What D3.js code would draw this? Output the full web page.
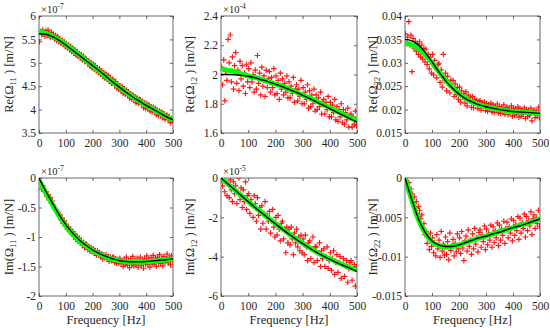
<!DOCTYPE html>
<html>
<head>
<meta charset="utf-8">
<script src="https://cdn.jsdelivr.net/npm/d3@7"></script>
<style>
  body { margin: 0; background: #fff; }
  svg text { font-family: "Liberation Serif", "Times New Roman", serif !important; fill: #262626; }
</style>
</head>
<body>
<div id="plt"></div>
<script>
// measured sample frequencies (Hz)
const freq = [2,6,10,14,18,22,26,30,34,38,42,46,50,54,58,62,66,70,74,78,82,86,90,94,98,
  102,106,110,114,118,122,126,130,134,138,142,146,150,154,158,162,166,170,174,178,182,186,190,194,198,
  202,206,210,214,218,222,226,230,234,238,242,246,250,254,258,262,266,270,274,278,282,286,290,294,298,
  302,306,310,314,318,322,326,330,334,338,342,346,350,354,358,362,366,370,374,378,382,386,390,394,398,
  402,406,410,414,418,422,426,430,434,438,442,446,450,454,458,462,466,470,474,478,482,486,490,494,498];
// frequencies where the fitted curves are read
const fitFreq = [0,25,50,75,100,125,150,175,200,225,250,275,300,325,350,375,400,425,450,475,500];

// Re(Ω11), x1e-7
const re11Meas = [5.45,5.67,5.60,5.70,5.63,5.57, 5.68,5.58,5.70,5.62,5.54,5.65,5.56, 5.61,5.51,5.58,5.48,5.56,5.45,
  5.51,5.42,5.48,5.39,5.45,5.35, 5.41,5.32,5.38,5.28,5.35,5.24, 5.31,5.21,5.28,5.16,5.24,5.14,
  5.20,5.11,5.17,5.06,5.14,5.03,5.09, 5.07,4.98,5.04,4.93,5.00,4.89, 4.98,4.87,4.94,4.83,4.90,4.79,
  4.87,4.76,4.83,4.71,4.79,4.67, 4.76,4.65,4.73,4.61,4.68,4.56,4.65, 4.62,4.52,4.60,4.46,4.55,4.43,
  4.51,4.40,4.49,4.35,4.44,4.33, 4.42,4.31,4.38,4.25,4.34,4.22, 4.31,4.21,4.28,4.15,4.25,4.13,4.22,
  4.21,4.11,4.18,4.04,4.14,4.02, 4.13,4.02,4.10,3.97,4.06,3.95, 4.05,3.95,4.03,3.89,3.98,3.87,
  3.97,3.87,3.95,3.82,3.91,3.79,3.88, 3.88,3.78,3.85,3.72,3.81,3.75];
const re11Fit = [5.66,5.63,5.57,5.49,5.39,5.28,5.17,5.05,4.94,4.82,4.70,4.59,4.48,4.37,4.27,4.18,4.09,4.01,3.93,3.85,3.78];
const re11Model = [5.62,5.61,5.56,5.48,5.38,5.27,5.16,5.05,4.94,4.83,4.71,4.59,4.48,4.37,4.27,4.18,4.09,4.01,3.93,3.85,3.78];

// Re(Ω12), x1e-4
const re12Meas = [2.05,1.93,2.10,1.82,2.02,1.96, 2.24,2.08,2.27,1.95,2.12,1.90,2.06, 2.15,1.94,2.03,1.89,2.09,1.97,
  2.06,1.92,2.01,1.87,2.07,1.95, 2.04,1.91,2.08,1.95,2.00,1.88, 2.03,1.90,2.13,1.94,2.01,1.86,
  2.05,1.92,1.99,1.85,2.03,1.91,1.97, 2.02,1.88,1.98,1.91,2.04,1.86, 1.99,1.87,1.96,1.83,2.01,1.90,
  1.97,1.86,1.94,1.88,1.99,1.84, 1.95,1.84,1.92,1.87,1.98,1.81,1.90, 1.93,1.82,1.90,1.85,1.96,1.80,
  1.91,1.80,1.88,1.83,1.93,1.77, 1.89,1.78,1.86,1.80,1.90,1.75, 1.86,1.76,1.84,1.78,1.88,1.73,1.81,
  1.83,1.73,1.81,1.76,1.85,1.71, 1.81,1.71,1.79,1.74,1.83,1.69, 1.78,1.68,1.76,1.71,1.80,1.67,
  1.76,1.66,1.74,1.69,1.77,1.64,1.72, 1.73,1.64,1.71,1.66,1.75,1.65];
const re12Fit = [2.04,2.03,2.02,2.005,1.99,1.98,1.965,1.95,1.935,1.92,1.90,1.88,1.86,1.84,1.818,1.795,1.773,1.75,1.727,1.705,1.685];
const re12Model = [2.00,2.00,1.998,1.994,1.988,1.978,1.964,1.95,1.934,1.917,1.898,1.879,1.858,1.836,1.813,1.79,1.767,1.743,1.72,1.697,1.675];

// Re(Ω22)
const re22Meas = [.0362,.0341,.0355,.0388,.0338,.0359, .0281,.0352,.0330,.0346,.0325,.0341,.0318, .0345,.0312,.0338,.0308,.0331,.0302,
  .0329,.0296,.0318,.0287,.0312,.0278, .0318,.0274,.0305,.0291,.0268,.0296, .0299,.0258,.0285,.0248,.0318,.0262,
  .0278,.0240,.0271,.0256,.0236,.0263,.0249, .0262,.0228,.0255,.0232,.0247,.0222, .0248,.0216,.0240,.0226,.0234,.0214,
  .0238,.0208,.0231,.0219,.0226,.0205, .0228,.0204,.0222,.0213,.0220,.0202,.0217, .0219,.0199,.0214,.0207,.0216,.0198,
  .0213,.0196,.0210,.0201,.0214,.0195, .0210,.0194,.0207,.0199,.0212,.0193, .0207,.0192,.0205,.0196,.0210,.0190,.0203,
  .0205,.0189,.0202,.0194,.0208,.0186, .0203,.0188,.0201,.0191,.0206,.0184, .0202,.0186,.0199,.0190,.0204,.0181,
  .0200,.0185,.0198,.0188,.0203,.0176,.0196, .0199,.0183,.0197,.0187,.0205,.0182];
const re22Fit = [.0343,.0338,.0330,.0317,.0300,.0281,.0263,.0247,.0234,.0224,.0216,.0210,.0206,.0203,.0200,.0198,.0196,.0195,.0194,.0193,.0191];
const re22Model = [.0350,.0347,.0338,.0322,.0302,.0281,.0262,.0246,.0233,.0223,.0216,.0210,.0206,.0203,.0200,.0198,.0196,.0195,.0194,.0193,.0192];

// Im(Ω11), x1e-7
const im11Meas = [-0.08,-0.12,-0.19,-0.13,-0.21,-0.23, -0.23,-0.31,-0.28,-0.37,-0.33,-0.42,-0.39, -0.46,-0.51,-0.54,-0.56,-0.59,-0.64,
  -0.62,-0.71,-0.68,-0.77,-0.72,-0.81, -0.78,-0.87,-0.83,-0.91,-0.87,-0.95, -0.91,-0.99,-0.95,-1.04,-0.99,-1.07,
  -1.02,-1.10,-1.06,-1.14,-1.09,-1.18,-1.12, -1.13,-1.21,-1.16,-1.24,-1.18,-1.25, -1.20,-1.27,-1.23,-1.31,-1.24,-1.30,
  -1.26,-1.34,-1.29,-1.37,-1.30,-1.35, -1.30,-1.38,-1.33,-1.41,-1.34,-1.40,-1.35, -1.34,-1.43,-1.37,-1.45,-1.38,-1.44,
  -1.36,-1.45,-1.40,-1.50,-1.38,-1.47, -1.34,-1.48,-1.41,-1.52,-1.37,-1.46, -1.33,-1.49,-1.40,-1.47,-1.36,-1.51,-1.42,
  -1.34,-1.48,-1.39,-1.53,-1.37,-1.46, -1.32,-1.47,-1.38,-1.51,-1.35,-1.45, -1.31,-1.46,-1.37,-1.50,-1.34,-1.44,
  -1.30,-1.45,-1.36,-1.49,-1.33,-1.43,-1.38, -1.29,-1.44,-1.35,-1.47,-1.32,-1.40];
const im11Fit = [-0.04,-0.25,-0.45,-0.64,-0.81,-0.95,-1.06,-1.15,-1.23,-1.29,-1.34,-1.38,-1.405,-1.42,-1.425,-1.425,-1.42,-1.41,-1.40,-1.39,-1.375];
const im11Model = [0,-0.22,-0.42,-0.62,-0.79,-0.93,-1.05,-1.14,-1.22,-1.28,-1.33,-1.37,-1.40,-1.415,-1.42,-1.42,-1.415,-1.405,-1.395,-1.385,-1.37];

// Im(Ω12), x1e-5
const im12Meas = [-0.1,-0.4,0.0,-0.7,-0.2,-0.9, -0.3,-1.0,-0.1,-0.6,-1.2,-0.2,-0.8, -0.4,-1.3,-0.7,0.0,-1.1,-0.5,
  -1.5,-0.6,-1.2,-0.2,-1.6,-0.9, -0.8,-1.8,-1.1,-1.4,-2.0,-0.9, -1.3,-2.2,-1.0,-1.9,-1.5,-2.6,
  -1.4,-2.3,-1.8,-1.2,-2.6,-1.9,-2.2, -1.7,-2.8,-2.2,-1.6,-2.5,-3.0, -2.0,-2.9,-1.9,-2.6,-3.2,-2.3,
  -2.2,-3.1,-2.6,-3.8,-2.5,-3.3, -2.6,-3.4,-2.5,-3.1,-3.9,-2.8,-3.3, -2.6,-3.5,-3.0,-3.7,-2.9,-3.8,
  -3.1,-3.9,-2.9,-3.5,-4.2,-3.3, -3.2,-4.1,-3.6,-3.0,-4.3,-3.5, -3.5,-4.2,-3.8,-3.3,-4.5,-3.7,-4.1,
  -3.6,-4.5,-4.0,-3.5,-4.6,-4.2, -3.8,-4.7,-4.1,-3.7,-4.9,-4.3, -3.9,-4.8,-4.3,-4.0,-5.1,-4.4,
  -4.1,-5.0,-4.5,-4.2,-5.3,-4.6,-4.3, -4.2,-5.2,-4.6,-4.4,-5.5,-4.5];
const im12Fit = [0,-0.3,-0.6,-0.9,-1.19,-1.48,-1.76,-2.04,-2.31,-2.58,-2.84,-3.08,-3.32,-3.54,-3.75,-3.94,-4.11,-4.27,-4.42,-4.56,-4.68];
const im12Model = [0,-0.3,-0.6,-0.9,-1.2,-1.5,-1.78,-2.06,-2.33,-2.6,-2.86,-3.1,-3.34,-3.56,-3.77,-3.96,-4.13,-4.3,-4.45,-4.6,-4.75];

// Im(Ω22)
const im22Meas = [-0.0002,-0.0005,-0.0012,-0.0006,-0.0018,-0.0014, -0.0020,-0.0031,-0.0024,-0.0038,-0.0030,-0.0045,-0.0036,
  -0.0041,-0.0052,-0.0047,-0.0063,-0.0058,-0.0072, -0.0068,-0.0083,-0.0074,-0.0091,-0.0070,-0.0087,
  -0.0076,-0.0095,-0.0082,-0.0099,-0.0072,-0.0090, -0.0079,-0.0101,-0.0068,-0.0093,-0.0084,-0.0098,
  -0.0075,-0.0097,-0.0081,-0.0104,-0.0070,-0.0092,-0.0086, -0.0078,-0.0099,-0.0083,-0.0094,-0.0071,-0.0090,
  -0.0076,-0.0096,-0.0068,-0.0089,-0.0105,-0.0080, -0.0074,-0.0093,-0.0066,-0.0087,-0.0079,-0.0097,
  -0.0071,-0.0090,-0.0064,-0.0084,-0.0076,-0.0094,-0.0069, -0.0066,-0.0088,-0.0072,-0.0081,-0.0061,-0.0091,
  -0.0065,-0.0085,-0.0070,-0.0079,-0.0060,-0.0088, -0.0062,-0.0082,-0.0067,-0.0076,-0.0057,-0.0086,
  -0.0060,-0.0079,-0.0065,-0.0073,-0.0055,-0.0083,-0.0064, -0.0056,-0.0076,-0.0062,-0.0070,-0.0052,-0.0080,
  -0.0054,-0.0073,-0.0059,-0.0067,-0.0049,-0.0078, -0.0051,-0.0070,-0.0057,-0.0064,-0.0046,-0.0075,
  -0.0049,-0.0067,-0.0054,-0.0061,-0.0043,-0.0072,-0.0052, -0.0047,-0.0064,-0.0051,-0.0058,-0.0041,-0.0062];
const im22Fit = [0,-0.0028,-0.0053,-0.0070,-0.0081,-0.0086,-0.0088,-0.0087,-0.0085,-0.0082,-0.0079,-0.0076,-0.0074,-0.0071,-0.0068,-0.0066,-0.0063,-0.0060,-0.0058,-0.0055,-0.0052];
const im22Model = [0,-0.0027,-0.0052,-0.0069,-0.0080,-0.0085,-0.0087,-0.0087,-0.0085,-0.0082,-0.0079,-0.0076,-0.0074,-0.0071,-0.0069,-0.0066,-0.0063,-0.0061,-0.0058,-0.0055,-0.0052];

const xTicks = [0,100,200,300,400,500];

const panels = [
  {part:"Re", sub:"11", exp:"-7", meas:re11Meas, fit:re11Fit, model:re11Model, yTicks:[3.5,4,4.5,5,5.5,6], col:0, row:0},
  {part:"Re", sub:"12", exp:"-4", meas:re12Meas, fit:re12Fit, model:re12Model, yTicks:[1.6,1.8,2,2.2,2.4], col:1, row:0},
  {part:"Re", sub:"22", exp:null, meas:re22Meas, fit:re22Fit, model:re22Model, yTicks:[0.015,0.02,0.025,0.03,0.035,0.04], col:2, row:0},
  {part:"Im", sub:"11", exp:"-7", meas:im11Meas, fit:im11Fit, model:im11Model, yTicks:[-2,-1.5,-1,-0.5,0], col:0, row:1},
  {part:"Im", sub:"12", exp:"-5", meas:im12Meas, fit:im12Fit, model:im12Model, yTicks:[-6,-4,-2,0], col:1, row:1},
  {part:"Im", sub:"22", exp:null, meas:im22Meas, fit:im22Fit, model:im22Model, yTicks:[-0.015,-0.01,-0.005,0], col:2, row:1},
];

// axes boxes in pixels
const colX = [[39,173],[221,357],[405,540]];
const rowY = [[16,133],[178,296]];
const labelX = [9, 190, 373];

const svg = d3.select("#plt").append("svg")
    .attr("width", 550)
    .attr("height", 328);

svg.append("defs").selectAll("clipPath")
  .data(panels)
  .enter().append("clipPath")
  .attr("id", (d, i) => "clip" + i)
  .append("rect")
  .attr("x", d => colX[d.col][0])
  .attr("y", d => rowY[d.row][0])
  .attr("width", d => colX[d.col][1] - colX[d.col][0])
  .attr("height", d => rowY[d.row][1] - rowY[d.row][0]);

panels.forEach((p, i) => {
  const [x0, x1] = colX[p.col];
  const [y0, y1] = rowY[p.row];
  const x = d3.scaleLinear().domain([0, 500]).range([x0, x1]);
  const y = d3.scaleLinear().domain(d3.extent(p.yTicks)).range([y1, y0]);

  const g = svg.append("g");

  // box
  g.append("rect")
    .attr("x", x0).attr("y", y0)
    .attr("width", x1 - x0).attr("height", y1 - y0)
    .attr("fill", "none").attr("stroke", "#444").attr("stroke-width", 0.8);

  // inward ticks on all four sides
  const ax = [
    d3.axisBottom(x).tickValues(xTicks).tickSize(-3).tickFormat(d => d),
    d3.axisTop(x).tickValues(xTicks).tickSize(-3).tickFormat(""),
    d3.axisLeft(y).tickValues(p.yTicks).tickSize(-3).tickFormat(d => d),
    d3.axisRight(y).tickValues(p.yTicks).tickSize(-3).tickFormat(""),
  ];
  const pos = [`translate(0,${y1})`, `translate(0,${y0})`, `translate(${x0},0)`, `translate(${x1},0)`];
  ax.forEach((a, k) => {
    const ag = g.append("g").attr("transform", pos[k]).call(a);
    ag.attr("font-family", null).attr("font-size", null);
    ag.select(".domain").remove();
    ag.selectAll(".tick line").attr("stroke", "#444").attr("stroke-width", 0.8);
    ag.selectAll(".tick text")
      .style("font-size", "11.5px")
      .attr("fill", "#262626");
    if (k === 0) ag.selectAll(".tick text").attr("dy", "0.95em").attr("y", 3);
    if (k === 2) ag.selectAll(".tick text").attr("x", -3);
  });

  const plot = g.append("g").attr("clip-path", `url(#clip${i})`);

  // measured points
  plot.append("g")
    .selectAll("path")
    .data(p.meas)
    .enter().append("path")
    .attr("transform", (d, j) => `translate(${x(freq[j])},${y(d)})`)
    .attr("d", "M-2.8,0H2.8M0,-2.8V2.8")
    .attr("stroke", "#ff0000")
    .attr("stroke-width", 1.2)
    .attr("opacity", 0.9);

  const line = vals => d3.line()
    .x((d, j) => x(fitFreq[j]))
    .y(d => y(d))
    .curve(d3.curveMonotoneX)(vals);

  plot.append("path")
    .attr("d", line(p.fit))
    .attr("fill", "none")
    .attr("stroke", "#00ff00")
    .attr("stroke-width", 5);

  plot.append("path")
    .attr("d", line(p.model))
    .attr("fill", "none")
    .attr("stroke", "#000")
    .attr("stroke-width", 1.4);

  // exponent label
  if (p.exp) {
    const t = g.append("text")
      .attr("x", x0 + 2).attr("y", y0 - 3)
      .style("font-size", "10.5px");
    t.append("tspan").text("\u00d710");
    t.append("tspan").attr("dy", -4).style("font-size", "7.5px").text(p.exp);
  }

  // y label
  const yl = g.append("text")
    .attr("transform", `translate(${labelX[p.col] + 4},${(y0 + y1) / 2}) rotate(-90)`)
    .attr("text-anchor", "middle")
    .style("font-size", "12.5px");
  yl.append("tspan").text(p.part + "(\u03a9");
  yl.append("tspan").attr("dy", 3).style("font-size", "8.5px").text(p.sub);
  yl.append("tspan").attr("dy", -3).text(" ) [m/N]");

  // x label on bottom row
  if (p.row === 1) {
    g.append("text")
      .attr("x", (x0 + x1) / 2)
      .attr("y", 324)
      .attr("text-anchor", "middle")
      .style("font-size", "12.5px")
      .text("Frequency [Hz]");
  }
});
</script>
</body>
</html>
